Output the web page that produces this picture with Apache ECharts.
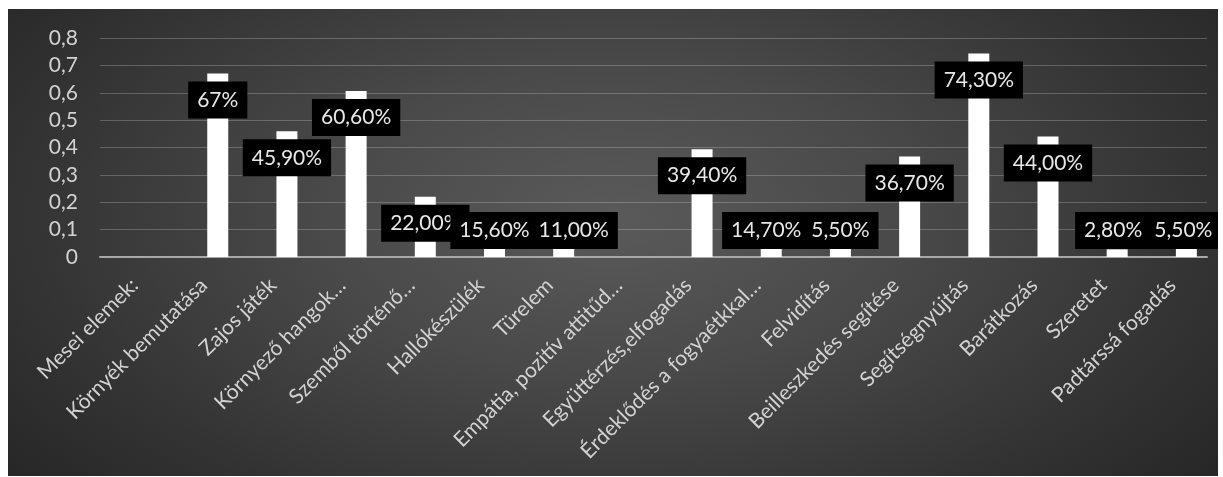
<!DOCTYPE html>
<html>
<head>
<meta charset="utf-8">
<script src="https://cdn.jsdelivr.net/npm/echarts@6/dist/echarts.min.js"></script>
<style>
  html, body { margin: 0; padding: 0; background: #ffffff; }
  #chart {
    position: absolute; left: 8px; top: 9px; width: 1210px; height: 467px;
    background: radial-gradient(ellipse 70% 95% at 50% 45%, #5a5a5a 0%, #494949 35%, #333333 70%, #222222 100%);
  }
</style>
</head>
<body>
<div id="chart"></div>
<script>
const categories = [
  'Mesei elemek:', 'Környék bemutatása', 'Zajos játék', 'Környező hangok…',
  'Szemből történő…', 'Hallókészülék', 'Türelem', 'Empátia, pozitív attitűd…',
  'Együttérzés,elfogadás', 'Érdeklődés a fogyaétkkal…', 'Felvidítás',
  'Beilleszkedés segítése', 'Segítségnyújtás', 'Barátkozás', 'Szeretet', 'Padtárssá fogadás'
];
const values = [null, 0.67, 0.459, 0.606, 0.22, 0.156, 0.11, null, 0.394, 0.147, 0.055, 0.367, 0.743, 0.44, 0.028, 0.055];
const labelTexts = ['', '67%', '45,90%', '60,60%', '22,00%', '15,60%', '11,00%', '', '39,40%', '14,70%', '5,50%', '36,70%', '74,30%', '44,00%', '2,80%', '5,50%'];
const emptySeries = categories.map(() => null);
const yTicks = { min: 0, max: 0.8, interval: 0.1 };

const FONT = 'Lato, "Open Sans", sans-serif';
const chart = echarts.init(document.getElementById('chart'), null, { renderer: 'canvas' });

// small manual label nudges (as in the original chart)
const labelNudge = { 6: [10, 0], 9: [-5, 0], 14: [-4, 0], 15: [-3, 0] };

const barData = values.map((v, i) => ({
  value: v,
  label: {
    position: (v !== null && v < 0.2) ? 'insideBottom' : 'insideTop',
    offset: labelNudge[i] || [0, 0],
    formatter: labelTexts[i]
  }
}));

chart.setOption({
  backgroundColor: 'transparent',
  animation: false,
  grid: { left: 92, right: 11, top: 29, bottom: 219, containLabel: false, outerBoundsMode: 'none' },
  xAxis: {
    type: 'category',
    data: categories,
    axisLine: { show: true, lineStyle: { color: '#a8a8a8', width: 2 } },
    axisTick: { show: false },
    axisLabel: {
      interval: 0, rotate: 45, margin: 25,
      color: '#d2d2d2', fontFamily: FONT, fontSize: 21
    },
    splitLine: { show: false }
  },
  yAxis: {
    type: 'value',
    min: yTicks.min, max: yTicks.max, interval: yTicks.interval,
    axisLine: { show: false },
    axisTick: { show: false },
    axisLabel: {
      margin: 22, color: '#d2d2d2', fontFamily: FONT, fontSize: 21,
      formatter: v => String(+v.toFixed(1)).replace('.', ',')
    },
    splitLine: { show: true, lineStyle: { color: 'rgba(255,255,255,0.22)', width: 1 } }
  },
  series: [
    {
      name: 'Series 1', type: 'bar', data: emptySeries,
      barWidth: 21, barGap: '33%', silent: true
    },
    {
      name: 'Series 2', type: 'bar', data: barData,
      barWidth: 21, barGap: '33%',
      itemStyle: { color: '#ffffff' },
      label: {
        show: true, distance: 8,
        backgroundColor: '#000000',
        color: '#e8e8e8', fontFamily: FONT, fontSize: 21,
        lineHeight: 25, padding: [6, 9]
      }
    }
  ]
});
</script>
</body>
</html>
